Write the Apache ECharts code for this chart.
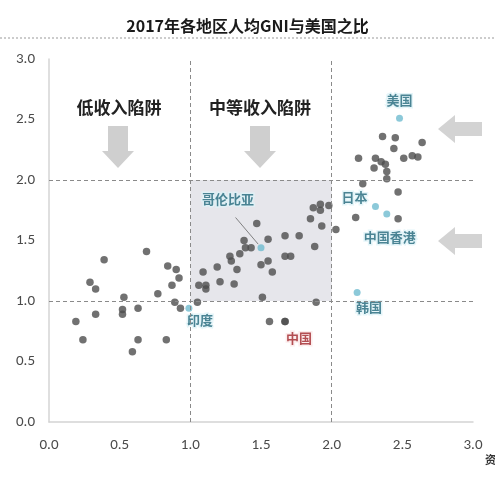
<!DOCTYPE html>
<html>
<head>
<meta charset="utf-8">
<script src="https://cdn.jsdelivr.net/npm/echarts@6/dist/echarts.min.js"></script>
<style>
  html, body { margin: 0; padding: 0; background: #fff; }
  #chart { width: 495px; height: 495px; }
</style>
</head>
<body>
<div id="chart"></div>
<script>
const axisTicks = [0, 0.5, 1, 1.5, 2, 2.5, 3];

// other economies (x, y)
const otherPoints = [
  [0.69, 1.41], [0.39, 1.34], [0.29, 1.155], [0.33, 1.10], [0.53, 1.03],
  [0.52, 0.93], [0.52, 0.89], [0.63, 0.94], [0.33, 0.89], [0.19, 0.83],
  [0.24, 0.68], [0.63, 0.68], [0.59, 0.58], [0.83, 0.68], [0.77, 1.06],
  [0.84, 1.29], [0.90, 1.26], [0.92, 1.19], [0.87, 1.13], [0.89, 0.99],
  [0.93, 0.94], [1.05, 0.99],
  [1.09, 1.24], [1.06, 1.13], [1.11, 1.13], [1.11, 1.10], [1.19, 1.28],
  [1.21, 1.16], [1.31, 1.14], [1.33, 1.26], [1.28, 1.37], [1.29, 1.33],
  [1.35, 1.39], [1.39, 1.44], [1.43, 1.44], [1.38, 1.50], [1.47, 1.64],
  [1.55, 1.51], [1.50, 1.30], [1.55, 1.33], [1.58, 1.24], [1.67, 1.54],
  [1.77, 1.54], [1.67, 1.37], [1.71, 1.37], [1.51, 1.03], [1.88, 1.45],
  [1.85, 1.68], [1.87, 1.77], [1.92, 1.80], [1.92, 1.75], [1.98, 1.79],
  [1.93, 1.62], [2.03, 1.59], [1.89, 0.99], [1.56, 0.83],
  [2.36, 2.36], [2.45, 2.35], [2.64, 2.31], [2.44, 2.26], [2.19, 2.18],
  [2.31, 2.18], [2.35, 2.15], [2.38, 2.13], [2.30, 2.10], [2.39, 2.07],
  [2.51, 2.18], [2.57, 2.20], [2.61, 2.19], [2.39, 2.01], [2.22, 1.97],
  [2.47, 1.90], [2.17, 1.69], [2.47, 1.68]
];

// highlighted economies
const namedLabels = ['美国', '日本', '中国香港', '韩国', '哥伦比亚', '印度'];
const namedValues = [
  [2.48, 2.51], [2.31, 1.78], [2.39, 1.72], [2.18, 1.07], [1.50, 1.44], [0.99, 0.94]
];
const chinaValue = [1.67, 0.83];

// trap boundaries
const trapLines = [1, 2];
const colombiaPointer = [[1.32, 1.69], [1.48, 1.47]];

const labelOffsets = {
  '美国': [0, -18],
  '日本': [-21, -10],
  '中国香港': [3, 23],
  '韩国': [12, 15],
  '哥伦比亚': [-33, -49],
  '印度': [11, 12]
};

const cjk = '"Noto Sans CJK SC", "Noto Sans", sans-serif';
const tealText = {
  color: '#23687a',
  fontFamily: cjk,
  fontWeight: 'bold',
  fontSize: 13,
  textBorderColor: '#dff3f8',
  textBorderWidth: 3
};

const dashed = { color: '#8a8a8a', type: [4, 3], width: 1 };

const chart = echarts.init(document.querySelector('#chart'), null, { renderer: 'canvas' });

const downArrow = (cx) => ({
  type: 'polygon',
  shape: {
    points: [[cx - 10, 126], [cx + 10, 126], [cx + 10, 151], [cx + 16, 151],
      [cx, 168], [cx - 16, 151], [cx - 10, 151]]
  },
  style: { fill: '#cfcfcf' }
});

const leftArrow = (cy) => ({
  type: 'polygon',
  shape: {
    points: [[438, cy], [455, cy - 14], [455, cy - 7], [482, cy - 7],
      [482, cy + 7], [455, cy + 7], [455, cy + 14]]
  },
  style: { fill: '#d3d3d3' }
});

const trapTitle = (text, cx) => ({
  type: 'text',
  x: cx,
  y: 108,
  style: {
    text,
    fill: '#222',
    font: 'bold 17px ' + cjk,
    textAlign: 'center',
    textVerticalAlign: 'middle'
  }
});

const axisCommon = {
  min: axisTicks[0],
  max: axisTicks[axisTicks.length - 1],
  interval: 0.5,
  splitLine: { show: false },
  axisTick: { show: false },
  axisLine: { show: true, lineStyle: { color: '#d4d4d4', width: 1.5 } },
  axisLabel: {
    color: '#4a4a4a',
    fontSize: 15,
    fontFamily: 'Calibri, "Liberation Sans", "DejaVu Sans", sans-serif',
    formatter: (v) => v.toFixed(1)
  }
};

chart.setOption({
  backgroundColor: '#fff',
  animation: false,
  title: {
    text: '2017年各地区人均GNI与美国之比',
    left: 'center',
    top: 13,
    textStyle: { fontFamily: cjk, fontSize: 16, fontWeight: 'bold', color: '#1a1a1a' }
  },
  grid: { left: 49, right: 22, top: 59, bottom: 73 },
  xAxis: Object.assign({}, axisCommon, {
    type: 'value',
    axisLabel: Object.assign({}, axisCommon.axisLabel, { margin: 16 })
  }),
  yAxis: Object.assign({}, axisCommon, {
    type: 'value',
    axisLabel: Object.assign({}, axisCommon.axisLabel, { margin: 14 })
  }),
  graphic: [
    {
      type: 'line',
      shape: { x1: 0, y1: 38, x2: 495, y2: 38 },
      style: { stroke: '#9a9a9a', lineDash: [2, 2], lineWidth: 1 }
    },
    trapTitle('低收入陷阱', 119),
    trapTitle('中等收入陷阱', 260),
    downArrow(118),
    downArrow(260),
    leftArrow(129),
    leftArrow(241),
    {
      type: 'text', left: 485, top: 454,
      style: { text: '资料来源', fill: '#333', font: 'bold 11px ' + cjk }
    }
  ],
  series: [
    {
      type: 'scatter',
      symbolSize: 7.5,
      itemStyle: { color: '#4d4d4d' },
      data: otherPoints.concat([chinaValue]),
      markArea: {
        silent: true,
        itemStyle: { color: '#e6e6eb' },
        data: [[{ xAxis: trapLines[0], yAxis: trapLines[0] }, { xAxis: trapLines[1], yAxis: trapLines[1] }]]
      },
      markLine: {
        silent: true,
        symbol: 'none',
        label: { show: false },
        lineStyle: dashed,
        data: [
          { xAxis: trapLines[0] }, { xAxis: trapLines[1] },
          { yAxis: trapLines[0] }, { yAxis: trapLines[1] },
          [
            { coord: colombiaPointer[0], lineStyle: { color: '#666', type: 'solid', width: 0.8 } },
            { coord: colombiaPointer[1] }
          ]
        ]
      },
      z: 3
    },
    {
      type: 'scatter',
      symbolSize: 7,
      itemStyle: { color: '#6fbccf' },
      data: namedValues.map((v, i) => ({
        value: v,
        name: namedLabels[i],
        label: Object.assign({
          show: true,
          formatter: namedLabels[i],
          position: 'inside',
          offset: labelOffsets[namedLabels[i]]
        }, tealText)
      })),
      z: 4
    },
    {
      type: 'scatter',
      symbolSize: 7.5,
      itemStyle: { color: '#4d4d4d' },
      data: [{
        value: chinaValue,
        label: {
          show: true,
          formatter: '中国',
          position: 'inside',
          offset: [14, 16],
          color: '#a0262b',
          fontFamily: cjk,
          fontWeight: 'bold',
          fontSize: 13,
          textBorderColor: '#fbe9e9',
          textBorderWidth: 3
        }
      }],
      z: 4
    }
  ]
});
</script>
</body>
</html>
